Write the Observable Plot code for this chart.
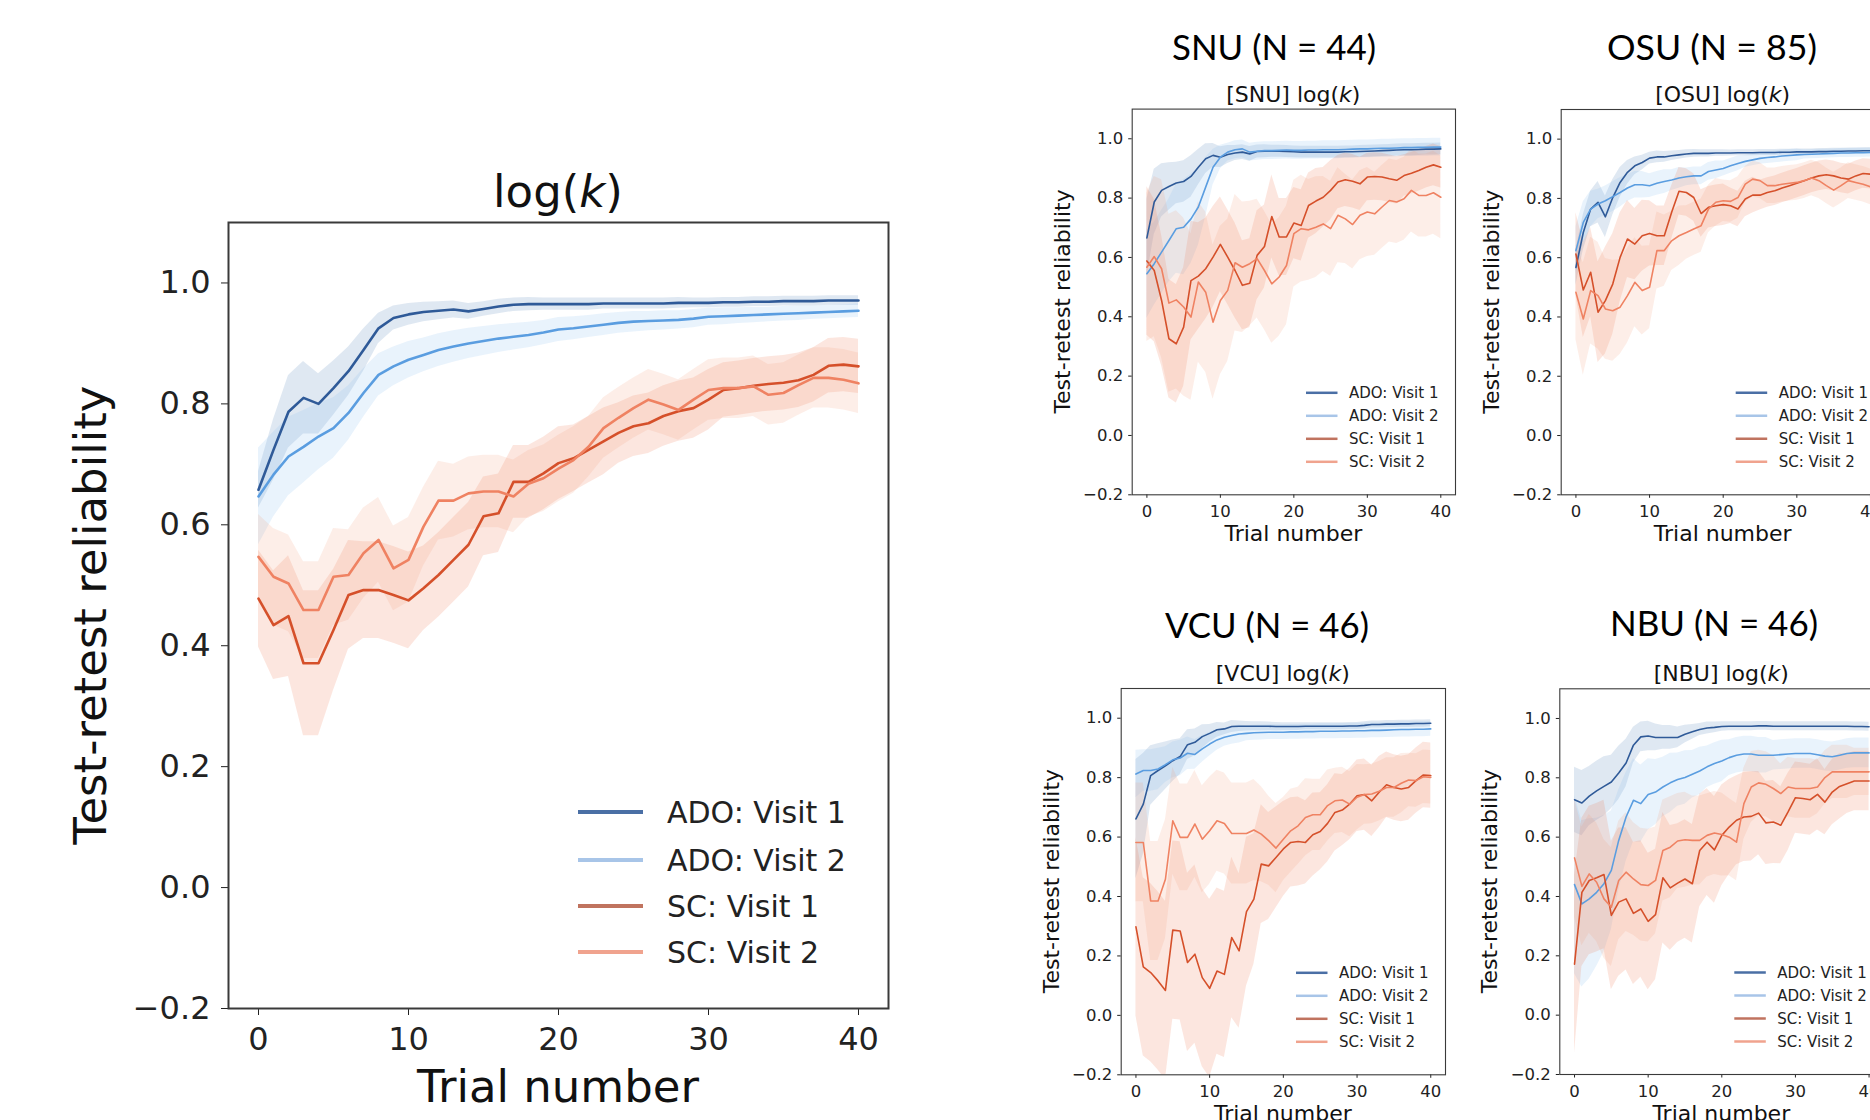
<!DOCTYPE html>
<html><head><meta charset="utf-8">
<script src="https://cdn.jsdelivr.net/npm/d3@7"></script>
<script src="https://cdn.jsdelivr.net/npm/@observablehq/plot@0.6"></script>
<style>
html,body{margin:0;padding:0;background:#fff;}
#page{position:relative;width:1870px;height:1120px;overflow:hidden;background:#fff;}
#page svg{position:absolute;}
</style></head><body><div id="page"></div>
<script>
const SERIES = ["ADO: Visit 1","ADO: Visit 2","SC: Visit 1","SC: Visit 2"];
const trials = [0,1,2,3,4,5,6,7,8,9,10,11,12,13,14,15,16,17,18,19,20,21,22,23,24,25,26,27,28,29,30,31,32,33,34,35,36,37,38,39,40];
const xTicks = [0,10,20,30,40];
const yTicks = [-0.2,0,0.2,0.4,0.6,0.8,1.0];
const LINE_COLORS = ["#2f5a98","#5a9de0","#d5502a","#ef8262"];
const BAND_COLORS = ["#6c94c6","#92c3f2","#ec6a40","#f59a78"];
const BAND_OPACITY = [0.22, 0.2, 0.17, 0.17];
const LEGEND_COLORS = ["#4a6fa5","#a8c5e8","#c0735f","#f0a38e"];

// ---- Pooled panel: log(k)
const main_ado1 = [0.658,0.724,0.787,0.81,0.80,0.826,0.854,0.889,0.925,0.942,0.948,0.952,0.954,0.956,0.953,0.957,0.961,0.964,0.965,0.965,0.965,0.965,0.965,0.966,0.966,0.966,0.966,0.966,0.967,0.967,0.967,0.968,0.968,0.969,0.969,0.970,0.970,0.970,0.971,0.971,0.971];
const main_ado2 = [0.647,0.683,0.713,0.729,0.746,0.760,0.785,0.818,0.848,0.862,0.873,0.881,0.889,0.895,0.900,0.904,0.908,0.911,0.914,0.918,0.923,0.925,0.928,0.931,0.934,0.936,0.937,0.938,0.939,0.941,0.944,0.945,0.946,0.947,0.948,0.949,0.950,0.951,0.952,0.953,0.954];
const main_sc1 = [0.478,0.434,0.449,0.371,0.371,0.426,0.484,0.492,0.492,0.484,0.475,0.495,0.517,0.542,0.567,0.614,0.619,0.671,0.671,0.685,0.702,0.710,0.724,0.738,0.752,0.763,0.768,0.780,0.788,0.793,0.807,0.823,0.826,0.830,0.833,0.835,0.839,0.848,0.863,0.865,0.862];
const main_sc2 = [0.547,0.514,0.503,0.459,0.459,0.514,0.517,0.553,0.575,0.528,0.542,0.597,0.640,0.640,0.652,0.655,0.655,0.647,0.668,0.677,0.693,0.707,0.729,0.760,0.777,0.793,0.807,0.799,0.790,0.807,0.823,0.826,0.826,0.829,0.815,0.818,0.831,0.843,0.843,0.840,0.834];
const main_ado1_hw = [0.03,0.05,0.06,0.06,0.05,0.045,0.04,0.035,0.025,0.02,0.018,0.016,0.015,0.014,0.013,0.012,0.012,0.011,0.011,0.010,0.010,0.010,0.010,0.009,0.009,0.009,0.009,0.009,0.009,0.008,0.008,0.008,0.008,0.008,0.008,0.008,0.008,0.008,0.008,0.008,0.008];
const main_ado2_hw = [0.08,0.07,0.065,0.06,0.055,0.05,0.045,0.04,0.035,0.032,0.03,0.028,0.027,0.026,0.025,0.024,0.023,0.022,0.021,0.02,0.02,0.019,0.018,0.018,0.017,0.017,0.016,0.016,0.015,0.015,0.014,0.014,0.013,0.013,0.012,0.012,0.012,0.011,0.011,0.011,0.011];
const main_sc1_hw = [0.08,0.09,0.1,0.12,0.12,0.1,0.09,0.08,0.08,0.08,0.08,0.07,0.07,0.07,0.07,0.065,0.065,0.06,0.06,0.06,0.06,0.055,0.055,0.055,0.05,0.05,0.05,0.05,0.05,0.05,0.05,0.045,0.045,0.045,0.045,0.045,0.045,0.045,0.045,0.045,0.045];
const main_sc2_hw = [0.07,0.08,0.08,0.08,0.08,0.08,0.075,0.075,0.07,0.07,0.07,0.065,0.065,0.06,0.06,0.06,0.06,0.06,0.055,0.055,0.055,0.055,0.05,0.05,0.05,0.05,0.05,0.05,0.05,0.05,0.05,0.05,0.05,0.05,0.05,0.05,0.05,0.05,0.05,0.05,0.05];

// ---- SNU
const snu_ado1 = [0.666,0.787,0.826,0.839,0.851,0.856,0.873,0.904,0.933,0.944,0.938,0.947,0.952,0.955,0.949,0.957,0.958,0.958,0.958,0.957,0.956,0.955,0.955,0.955,0.955,0.955,0.955,0.956,0.956,0.957,0.958,0.959,0.960,0.961,0.962,0.963,0.963,0.964,0.965,0.965,0.966];
const snu_ado2 = [0.545,0.579,0.618,0.657,0.697,0.702,0.730,0.770,0.837,0.904,0.938,0.955,0.963,0.966,0.955,0.958,0.960,0.960,0.961,0.962,0.961,0.961,0.962,0.962,0.963,0.963,0.963,0.964,0.965,0.966,0.966,0.967,0.968,0.968,0.969,0.970,0.970,0.971,0.971,0.972,0.972];
const snu_sc1 = [0.588,0.556,0.455,0.326,0.309,0.365,0.522,0.537,0.562,0.601,0.644,0.601,0.556,0.506,0.513,0.607,0.637,0.738,0.669,0.669,0.716,0.708,0.775,0.790,0.803,0.826,0.854,0.862,0.857,0.848,0.871,0.873,0.871,0.865,0.860,0.876,0.884,0.893,0.904,0.912,0.904];
const snu_sc2 = [0.567,0.603,0.562,0.446,0.457,0.433,0.399,0.517,0.483,0.382,0.455,0.489,0.582,0.567,0.579,0.596,0.556,0.511,0.534,0.573,0.680,0.697,0.693,0.702,0.713,0.697,0.742,0.730,0.711,0.742,0.753,0.747,0.770,0.792,0.787,0.798,0.826,0.809,0.809,0.818,0.803];
const snu_ado1_hw = [0.13,0.11,0.09,0.08,0.07,0.07,0.07,0.06,0.05,0.04,0.035,0.03,0.025,0.025,0.025,0.022,0.022,0.02,0.02,0.02,0.02,0.02,0.02,0.02,0.02,0.02,0.02,0.02,0.02,0.02,0.02,0.02,0.02,0.02,0.02,0.02,0.02,0.02,0.02,0.02,0.02];
const snu_ado2_hw = [0.15,0.14,0.14,0.14,0.15,0.16,0.15,0.13,0.1,0.06,0.04,0.03,0.03,0.03,0.03,0.03,0.03,0.03,0.03,0.03,0.03,0.03,0.03,0.03,0.03,0.03,0.03,0.03,0.03,0.03,0.03,0.03,0.03,0.03,0.03,0.03,0.03,0.03,0.03,0.03,0.03];
const snu_sc1_hw = [0.25,0.24,0.22,0.2,0.2,0.2,0.2,0.18,0.17,0.17,0.16,0.16,0.16,0.15,0.15,0.15,0.14,0.14,0.13,0.13,0.12,0.12,0.11,0.11,0.1,0.1,0.09,0.09,0.09,0.09,0.08,0.08,0.08,0.08,0.08,0.07,0.07,0.07,0.07,0.07,0.07];
const snu_sc2_hw = [0.25,0.27,0.3,0.3,0.3,0.3,0.28,0.27,0.27,0.26,0.25,0.24,0.23,0.22,0.21,0.2,0.2,0.2,0.2,0.2,0.18,0.18,0.17,0.17,0.16,0.16,0.16,0.15,0.15,0.15,0.15,0.14,0.14,0.14,0.14,0.14,0.14,0.14,0.14,0.14,0.14];

// ---- OSU
const osu_ado1 = [0.567,0.685,0.764,0.787,0.738,0.803,0.854,0.888,0.910,0.921,0.936,0.940,0.940,0.944,0.947,0.950,0.952,0.952,0.952,0.953,0.953,0.953,0.954,0.954,0.954,0.955,0.955,0.955,0.956,0.956,0.957,0.957,0.957,0.958,0.958,0.959,0.959,0.960,0.960,0.961,0.961];
const osu_ado2 = [0.624,0.719,0.764,0.781,0.792,0.806,0.820,0.835,0.846,0.846,0.843,0.851,0.857,0.862,0.869,0.873,0.876,0.876,0.891,0.896,0.901,0.910,0.918,0.925,0.930,0.935,0.938,0.940,0.943,0.945,0.947,0.948,0.949,0.950,0.951,0.952,0.953,0.953,0.954,0.954,0.955];
const osu_sc1 = [0.612,0.491,0.551,0.416,0.455,0.511,0.601,0.663,0.646,0.674,0.682,0.674,0.674,0.753,0.824,0.820,0.803,0.749,0.770,0.775,0.779,0.775,0.764,0.798,0.811,0.811,0.820,0.826,0.835,0.843,0.851,0.860,0.869,0.876,0.880,0.876,0.869,0.865,0.876,0.884,0.882];
const osu_sc2 = [0.483,0.393,0.489,0.472,0.427,0.421,0.433,0.472,0.517,0.489,0.500,0.624,0.624,0.657,0.674,0.685,0.697,0.708,0.764,0.787,0.792,0.790,0.803,0.848,0.865,0.860,0.843,0.843,0.848,0.851,0.854,0.860,0.869,0.860,0.843,0.828,0.843,0.860,0.854,0.848,0.839];
const osu_ado1_hw = [0.06,0.06,0.06,0.07,0.07,0.06,0.05,0.04,0.03,0.025,0.02,0.02,0.018,0.016,0.015,0.014,0.013,0.012,0.012,0.011,0.011,0.01,0.01,0.01,0.01,0.01,0.01,0.01,0.01,0.01,0.01,0.01,0.01,0.01,0.01,0.01,0.01,0.01,0.01,0.01,0.01];
const osu_ado2_hw = [0.08,0.07,0.06,0.05,0.05,0.05,0.05,0.045,0.045,0.045,0.04,0.04,0.04,0.035,0.035,0.03,0.03,0.03,0.03,0.03,0.025,0.025,0.025,0.02,0.02,0.02,0.02,0.02,0.02,0.02,0.02,0.015,0.015,0.015,0.015,0.015,0.015,0.015,0.015,0.015,0.015];
const osu_sc1_hw = [0.14,0.16,0.15,0.17,0.18,0.17,0.15,0.13,0.12,0.12,0.11,0.1,0.1,0.09,0.08,0.08,0.08,0.08,0.07,0.07,0.07,0.06,0.06,0.06,0.06,0.05,0.05,0.05,0.05,0.05,0.05,0.05,0.05,0.05,0.05,0.05,0.05,0.05,0.05,0.05,0.05];
const osu_sc2_hw = [0.16,0.19,0.18,0.18,0.17,0.17,0.16,0.16,0.15,0.15,0.14,0.13,0.12,0.1,0.1,0.09,0.09,0.09,0.08,0.08,0.07,0.07,0.07,0.06,0.06,0.06,0.06,0.06,0.06,0.06,0.06,0.06,0.06,0.06,0.06,0.06,0.06,0.06,0.06,0.06,0.06];

// ---- VCU
const vcu_ado1 = [0.661,0.711,0.807,0.824,0.840,0.857,0.871,0.911,0.919,0.938,0.949,0.961,0.964,0.972,0.973,0.973,0.973,0.973,0.973,0.972,0.972,0.972,0.972,0.973,0.973,0.973,0.973,0.973,0.973,0.974,0.974,0.976,0.979,0.979,0.980,0.980,0.981,0.981,0.982,0.982,0.983];
const vcu_ado2 = [0.812,0.824,0.824,0.829,0.844,0.860,0.866,0.882,0.878,0.897,0.913,0.927,0.936,0.942,0.947,0.949,0.951,0.952,0.953,0.953,0.953,0.954,0.954,0.955,0.955,0.956,0.956,0.956,0.957,0.957,0.958,0.958,0.959,0.959,0.960,0.961,0.962,0.962,0.963,0.963,0.964];
const vcu_sc1 = [0.298,0.163,0.144,0.116,0.084,0.287,0.284,0.178,0.206,0.127,0.091,0.149,0.138,0.262,0.217,0.349,0.391,0.509,0.503,0.531,0.560,0.582,0.585,0.582,0.608,0.619,0.646,0.683,0.691,0.711,0.739,0.743,0.722,0.751,0.776,0.767,0.762,0.767,0.790,0.809,0.807];
const vcu_sc2 = [0.582,0.582,0.385,0.385,0.458,0.655,0.599,0.599,0.644,0.593,0.621,0.655,0.646,0.612,0.612,0.612,0.624,0.610,0.588,0.563,0.593,0.621,0.638,0.666,0.675,0.675,0.706,0.722,0.725,0.711,0.734,0.743,0.745,0.754,0.767,0.767,0.781,0.792,0.790,0.803,0.801];
const vcu_ado1_hw = [0.2,0.17,0.1,0.09,0.08,0.07,0.06,0.05,0.045,0.04,0.03,0.025,0.02,0.02,0.018,0.016,0.015,0.015,0.014,0.014,0.013,0.013,0.013,0.012,0.012,0.012,0.012,0.012,0.012,0.012,0.012,0.012,0.012,0.012,0.012,0.012,0.012,0.012,0.012,0.012,0.012];
const vcu_ado2_hw = [0.08,0.07,0.07,0.07,0.06,0.06,0.06,0.055,0.05,0.045,0.04,0.035,0.03,0.03,0.03,0.025,0.025,0.025,0.025,0.025,0.025,0.025,0.025,0.025,0.025,0.025,0.025,0.025,0.025,0.025,0.025,0.025,0.025,0.025,0.025,0.025,0.025,0.025,0.025,0.025,0.025];
const vcu_sc1_hw = [0.3,0.3,0.3,0.3,0.3,0.3,0.3,0.3,0.3,0.3,0.3,0.28,0.28,0.27,0.26,0.25,0.22,0.2,0.18,0.17,0.16,0.15,0.15,0.14,0.14,0.13,0.13,0.13,0.12,0.12,0.12,0.12,0.12,0.12,0.11,0.11,0.11,0.11,0.11,0.11,0.11];
const vcu_sc2_hw = [0.2,0.2,0.2,0.2,0.2,0.18,0.18,0.18,0.18,0.18,0.18,0.17,0.17,0.17,0.17,0.17,0.17,0.16,0.15,0.15,0.14,0.14,0.13,0.13,0.12,0.12,0.12,0.11,0.11,0.11,0.11,0.1,0.1,0.1,0.1,0.1,0.1,0.09,0.09,0.09,0.09];

// ---- NBU
const nbu_ado1 = [0.726,0.715,0.738,0.756,0.771,0.786,0.816,0.850,0.910,0.938,0.941,0.936,0.936,0.936,0.936,0.947,0.955,0.963,0.968,0.970,0.973,0.974,0.974,0.974,0.974,0.975,0.975,0.974,0.974,0.974,0.974,0.974,0.974,0.974,0.974,0.974,0.974,0.974,0.973,0.973,0.972];
const nbu_ado2 = [0.440,0.375,0.392,0.414,0.443,0.488,0.589,0.668,0.724,0.713,0.744,0.752,0.769,0.783,0.794,0.801,0.812,0.823,0.837,0.848,0.857,0.868,0.876,0.880,0.880,0.876,0.876,0.876,0.878,0.880,0.882,0.882,0.882,0.878,0.873,0.871,0.876,0.882,0.884,0.884,0.884];
const nbu_sc1 = [0.172,0.414,0.454,0.463,0.474,0.336,0.381,0.392,0.343,0.358,0.316,0.339,0.463,0.429,0.445,0.459,0.443,0.555,0.583,0.557,0.606,0.634,0.657,0.668,0.670,0.681,0.648,0.651,0.640,0.685,0.733,0.730,0.726,0.744,0.718,0.752,0.771,0.780,0.789,0.789,0.789];
const nbu_sc2 = [0.530,0.434,0.476,0.448,0.392,0.364,0.454,0.482,0.459,0.440,0.437,0.454,0.555,0.566,0.587,0.591,0.589,0.589,0.606,0.614,0.609,0.600,0.583,0.713,0.769,0.783,0.778,0.764,0.747,0.769,0.764,0.764,0.764,0.769,0.801,0.820,0.820,0.820,0.820,0.820,0.820];
const nbu_ado1_hw = [0.11,0.11,0.1,0.1,0.1,0.09,0.09,0.08,0.06,0.05,0.05,0.045,0.04,0.04,0.035,0.03,0.025,0.02,0.02,0.018,0.016,0.015,0.015,0.015,0.015,0.015,0.015,0.015,0.015,0.015,0.015,0.015,0.015,0.015,0.015,0.015,0.015,0.015,0.015,0.015,0.015];
const nbu_ado2_hw = [0.3,0.28,0.27,0.25,0.23,0.2,0.17,0.15,0.14,0.13,0.12,0.11,0.1,0.1,0.09,0.09,0.08,0.08,0.07,0.07,0.07,0.06,0.06,0.06,0.06,0.06,0.06,0.05,0.05,0.05,0.05,0.05,0.05,0.05,0.05,0.05,0.05,0.05,0.05,0.05,0.05];
const nbu_sc1_hw = [0.3,0.25,0.25,0.25,0.25,0.25,0.25,0.24,0.24,0.23,0.23,0.22,0.22,0.21,0.2,0.2,0.2,0.19,0.18,0.18,0.17,0.16,0.15,0.15,0.15,0.14,0.14,0.14,0.13,0.13,0.12,0.12,0.12,0.12,0.11,0.11,0.11,0.1,0.1,0.1,0.1];
const nbu_sc2_hw = [0.2,0.2,0.2,0.2,0.2,0.2,0.2,0.2,0.19,0.19,0.19,0.18,0.17,0.17,0.16,0.16,0.15,0.15,0.14,0.14,0.14,0.13,0.13,0.12,0.12,0.11,0.11,0.11,0.1,0.1,0.1,0.1,0.1,0.09,0.09,0.09,0.09,0.09,0.08,0.08,0.08];

const fmtY = d => (d < 0 ? "\u2212" : "") + Math.abs(d).toFixed(1);

const big = {font: 32, label: 45, legend: 30, lw: 2.6, legLw: 4, tick: 7, tickW: 1.6, padX: 12, padY: 11, frameW: 2,
  legLine0: 310, legLine1: 245, legText: 221, legRows: [196, 148, 102, 56], ylabOff: 122, xlabOff: 94, titleOff: 15};
const small = {font: 16.5, label: 22, legend: 15, lw: 1.6, legLw: 2.5, tick: 3.5, tickW: 1, padX: 7, padY: 5.5, frameW: 1.1,
  legLine0: 149, legLine1: 117.5, legText: 106, legRows: [101.5, 78.5, 55.5, 32.5], ylabOff: 62, xlabOff: 47, titleOff: 7};

const panels = [
  {name: "main", left: 0, top: 0, width: 900, height: 1120, frame: [228, 222, 888, 1008], st: big,
   values: [main_ado1, main_ado2, main_sc1, main_sc2], bands: [main_ado1_hw, main_ado2_hw, main_sc1_hw, main_sc2_hw]},
  {name: "SNU", sup: "SNU (N = 44)", supX: 1274, supY: 60, supW: 204, left: 1040, top: 0, width: 420, height: 560, frame: [1131.7, 108.6, 1455, 494.3], st: small,
   values: [snu_ado1, snu_ado2, snu_sc1, snu_sc2], bands: [snu_ado1_hw, snu_ado2_hw, snu_sc1_hw, snu_sc2_hw]},
  {name: "OSU", sup: "OSU (N = 85)", supX: 1712, supY: 60, supW: 210, left: 1470, top: 0, width: 420, height: 560, frame: [1560.7, 109, 1884.7, 494.3], st: small,
   values: [osu_ado1, osu_ado2, osu_sc1, osu_sc2], bands: [osu_ado1_hw, osu_ado2_hw, osu_sc1_hw, osu_sc2_hw]},
  {name: "VCU", sup: "VCU (N = 46)", supX: 1267, supY: 638, supW: 204, left: 1020, top: 560, width: 430, height: 560, frame: [1120.7, 688, 1445, 1074.3], st: small,
   values: [vcu_ado1, vcu_ado2, vcu_sc1, vcu_sc2], bands: [vcu_ado1_hw, vcu_ado2_hw, vcu_sc1_hw, vcu_sc2_hw]},
  {name: "NBU", sup: "NBU (N = 46)", supX: 1714, supY: 636, supW: 208, left: 1470, top: 560, width: 420, height: 560, frame: [1559.3, 688.3, 1883.3, 1074], st: small,
   values: [nbu_ado1, nbu_ado2, nbu_sc1, nbu_sc2], bands: [nbu_ado1_hw, nbu_ado2_hw, nbu_sc1_hw, nbu_sc2_hw]}
];

const page = document.getElementById("page");
let overlay = "";

for (const p of panels) {
  const st = p.st;
  const [fl, ft, fr, fb] = p.frame;
  const marks = [];
  SERIES.forEach((s, i) => {
    const rows = trials.map((t, j) => ({t, lo: p.values[i][j] - p.bands[i][j], hi: p.values[i][j] + p.bands[i][j]}));
    marks.push(Plot.areaY(rows, {x: "t", y1: "lo", y2: "hi", fill: BAND_COLORS[i], fillOpacity: BAND_OPACITY[i], clip: true}));
  });
  SERIES.forEach((s, i) => {
    const rows = trials.map((t, j) => ({t, v: p.values[i][j]}));
    marks.push(Plot.lineY(rows, {x: "t", y: "v", stroke: LINE_COLORS[i], strokeWidth: st.lw, clip: true}));
  });
  marks.push(Plot.frame({stroke: "#3a3a3a", strokeWidth: st.frameW}));
  const svg = Plot.plot({
    width: p.width, height: p.height,
    marginLeft: fl - p.left, marginRight: p.left + p.width - fr,
    marginTop: ft - p.top, marginBottom: p.top + p.height - fb,
    style: {fontFamily: "DejaVu Sans", fontSize: st.font + "px", color: "#222", background: "transparent", overflow: "visible"},
    x: {domain: [-2, 42], ticks: xTicks, tickSize: st.tick, tickPadding: st.padX, tickFormat: d => String(d), label: null},
    y: {domain: [-0.2, 1.1], ticks: yTicks, tickSize: st.tick, tickPadding: st.padY, tickFormat: fmtY, label: null},
    marks
  });
  svg.style.left = p.left + "px";
  svg.style.top = p.top + "px";
  page.appendChild(svg);

  const cx = (fl + fr) / 2, cy = (ft + fb) / 2;
  if (p.name === "main") {
    overlay += `<text x="${cx}" y="${ft - st.titleOff}" text-anchor="middle" font-family="DejaVu Sans" font-size="${st.label}px" fill="#111">log(<tspan font-style="italic">k</tspan>)</text>`;
  } else {
    overlay += `<text x="${cx}" y="${ft - st.titleOff}" text-anchor="middle" font-family="DejaVu Sans" font-size="${st.label}px" fill="#111">[${p.name}] log(<tspan font-style="italic">k</tspan>)</text>`;
    overlay += `<text x="${p.supX}" y="${p.supY}" text-anchor="middle" font-family="Lato, 'Open Sans', sans-serif" font-size="35px" fill="#000" textLength="${p.supW}" lengthAdjust="spacingAndGlyphs">${p.sup}</text>`;
  }
  overlay += `<text transform="translate(${fl - st.ylabOff},${cy}) rotate(-90)" text-anchor="middle" font-family="DejaVu Sans" font-size="${st.label}px" fill="#111">Test-retest reliability</text>`;
  overlay += `<text x="${cx}" y="${fb + st.xlabOff}" text-anchor="middle" font-family="DejaVu Sans" font-size="${st.label}px" fill="#111">Trial number</text>`;
  SERIES.forEach((s, i) => {
    const y = fb - st.legRows[i];
    overlay += `<line x1="${fr - st.legLine0}" x2="${fr - st.legLine1}" y1="${y}" y2="${y}" stroke="${LEGEND_COLORS[i]}" stroke-width="${st.legLw}"/>`;
    overlay += `<text x="${fr - st.legText}" y="${y}" dy="0.36em" font-family="DejaVu Sans" font-size="${st.legend}px" fill="#222">${s}</text>`;
  });
}

const ov = document.createElementNS("http://www.w3.org/2000/svg", "svg");
ov.setAttribute("width", 1870); ov.setAttribute("height", 1120);
ov.style.left = "0px"; ov.style.top = "0px";
ov.innerHTML = overlay;
page.appendChild(ov);
</script>
</body></html>
